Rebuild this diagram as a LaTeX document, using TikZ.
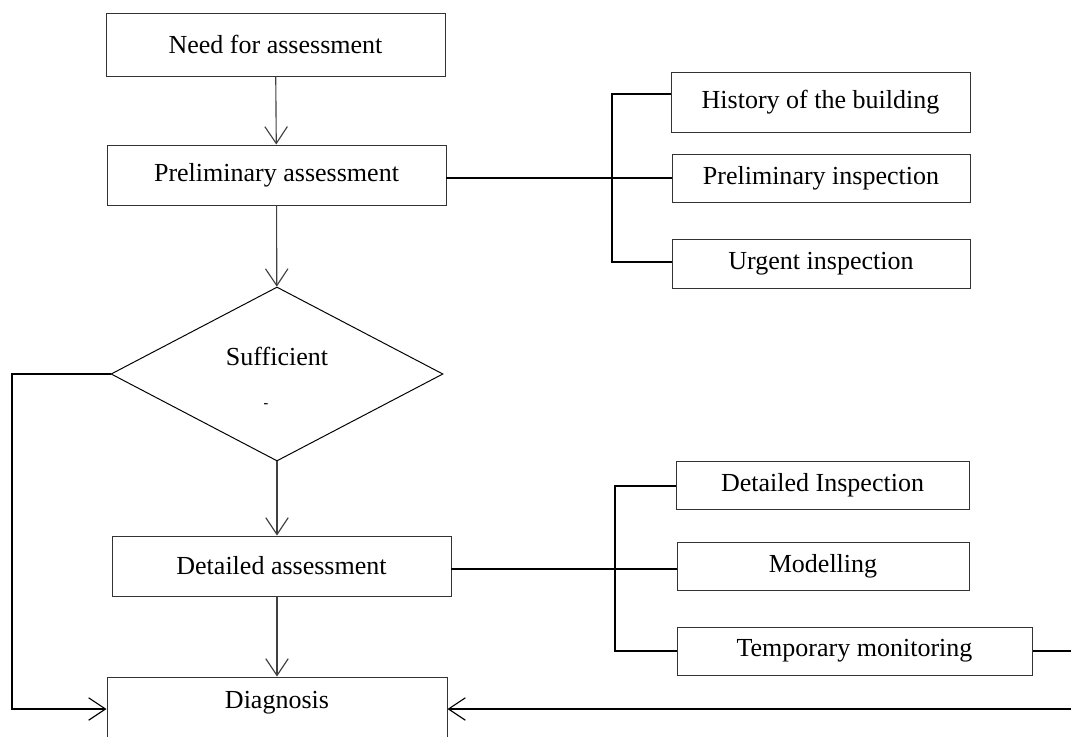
\documentclass[tikz,border=0pt]{standalone}
\usepackage{fontspec}
\setmainfont{Liberation Serif}
\usetikzlibrary{arrows.meta,shapes.geometric}

\tikzset{
  box/.style={draw=black!80, line width=0.7pt, inner sep=0pt, font=\fontsize{18.5}{21}\selectfont},
  txt/.style={inner sep=0pt, font=\fontsize{18.5}{21}\selectfont},
  link/.style={line width=1.2pt},
  flow/.style={draw=black!75, line width=0.8pt, -{Straight Barb[length=12pt,width=16pt,line width=0.8pt]}},
}
% box from (x1,y1) to (x2,y2), pixel units
\def\pixbox(#1)(#2,#3,#4,#5)#6{\node[box, minimum width={(#4-#2)*0.025cm}, minimum height={(#5-#3)*0.025cm}] (#1) at ({(#2+#4)/2},{(#3+#5)/2}) {#6};}

\begin{document}
\begin{tikzpicture}[x=0.025cm, y=-0.025cm]
			%%%%% START %%%%%
			\clip (0,0) rectangle (1071,736);
			
			% main column
			\pixbox(need)(106,13,445,76){Need for assessment}
			\pixbox(prelim)(107,145,446,205){Preliminary assessment}
			\node[diamond, draw, line width=0.7pt, inner sep=0pt, minimum width=332*0.025cm, minimum height=174*0.025cm] (suff) at (277,374) {};
			\node[txt] (sufftxt) at (277,356) {Sufficient};
			\node[inner sep=0pt, font=\fontsize{10}{10}\bfseries] (suffdash) at (266,406) {-};
			\pixbox(det)(112,536,451,596){Detailed assessment}
			\pixbox(diag)(107,677,447,745){}
			\node[txt] (diagtxt) at (277,703) {Diagnosis};
			
			% preliminary branch
			\pixbox(hist)(671,72,970,132){History of the building}
			\pixbox(prelinsp)(672,154,970,202){Preliminary inspection}
			\pixbox(urgent)(672,239,970,288){Urgent inspection}
			
			% detailed branch
			\pixbox(detinsp)(676,461,969,509){Detailed Inspection}
			\pixbox(model)(677,542,969,590){Modelling}
			\pixbox(tempmon)(677,627,1032,675){Temporary monitoring}
			
			\coordinate (bA1) at (612,94);
			\coordinate (bA2) at (612,262);
			\coordinate (bB1) at (615,486);
			\coordinate (bB2) at (615,651);
			\coordinate (lft) at (12,374);
			\coordinate (rgt) at (1085,651);
			
			% arrows
			\draw[flow] (need) -- (prelim);
			\draw[flow] (prelim) -- (suff);
			\draw[flow] (suff.south) -- (suff.south |- det.north);
			\draw[flow] (suff.south |- det.south) -- (suff.south |- diag.north);
			\draw[flow, draw=black] (suff.west) -- (lft) -- (lft |- 0,709) -- (diag.west |- 0,709);
			\draw[flow, draw=black] (tempmon.east) -- (rgt) -- (rgt |- 0,709) -- (diag.east |- 0,709);
			
			% brackets
			\draw[link] (hist.west |- bA1) -- (bA1) -- (bA2) -- (urgent.west |- bA2);
			\draw[link] (prelim.east |- 0,178) -- (prelinsp.west |- 0,178);
			\draw[link] (detinsp.west |- bB1) -- (bB1) -- (bB2) -- (tempmon.west);
			\draw[link] (det.east |- 0,569) -- (model.west |- 0,569);
			
			%%%%% END %%%%%
\end{tikzpicture}
\end{document}
